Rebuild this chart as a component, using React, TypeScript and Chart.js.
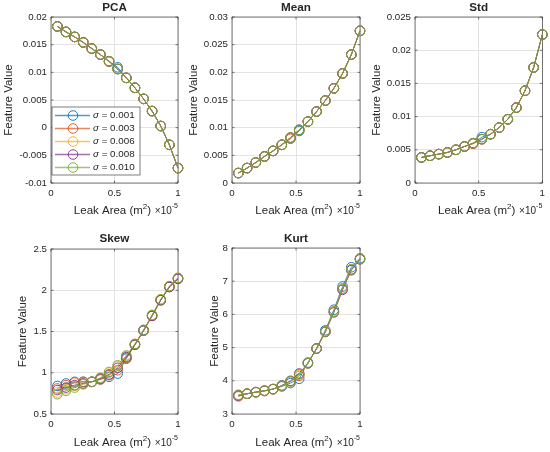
import React, { useEffect, useRef } from 'react';
import { Chart, registerables } from 'chart.js';

Chart.register(...registerables);

Chart.defaults.font.family = "'Liberation Sans', Arial, Helvetica, sans-serif";

// x values (Leak Area, x 10^-5 m^2)
const leakArea = [0.05, 0.118, 0.186, 0.254, 0.321, 0.389, 0.457, 0.525, 0.593, 0.661, 0.729, 0.796, 0.864, 0.932, 1.0];
const sigmaLabels = ['0.001', '0.003', '0.006', '0.008', '0.010'];
const colors = ['#0072BD', '#D95319', '#EDB120', '#7E2F8E', '#77AC30'];
const xTicks = [0, 0.5, 1];

// PCA
const pca001 = [0.0183, 0.0173, 0.0164, 0.0154, 0.0143, 0.0132, 0.0120, 0.0109, 0.0090, 0.0072, 0.0052, 0.0030, 0.0003, -0.0031, -0.0073];
const pca003 = [0.0183, 0.0173, 0.0164, 0.0154, 0.0143, 0.0132, 0.0119, 0.0106, 0.0090, 0.0072, 0.0052, 0.0030, 0.0003, -0.0031, -0.0073];
const pca006 = [0.0183, 0.0173, 0.0164, 0.0154, 0.0143, 0.0132, 0.0120, 0.0106, 0.0090, 0.0072, 0.0052, 0.0030, 0.0003, -0.0031, -0.0073];
const pca008 = [0.0183, 0.0173, 0.0164, 0.0154, 0.0143, 0.0132, 0.0120, 0.0106, 0.0090, 0.0072, 0.0052, 0.0030, 0.0003, -0.0031, -0.0073];
const pca010 = [0.0183, 0.0173, 0.0164, 0.0154, 0.0143, 0.0132, 0.0120, 0.0106, 0.0090, 0.0072, 0.0052, 0.0030, 0.0003, -0.0031, -0.0073];
const pcaTicks = [-0.01, -0.005, 0, 0.005, 0.01, 0.015, 0.02];

// Mean
const mean001 = [0.0018, 0.0027, 0.0037, 0.0048, 0.0058, 0.0069, 0.0081, 0.0094, 0.0111, 0.0129, 0.0149, 0.0171, 0.0198, 0.0232, 0.0275];
const mean003 = [0.0018, 0.0027, 0.0037, 0.0048, 0.0058, 0.0069, 0.0080, 0.0096, 0.0111, 0.0129, 0.0149, 0.0171, 0.0198, 0.0232, 0.0275];
const mean006 = [0.0018, 0.0027, 0.0037, 0.0048, 0.0058, 0.0069, 0.0082, 0.0096, 0.0111, 0.0129, 0.0149, 0.0171, 0.0198, 0.0232, 0.0275];
const mean008 = [0.0018, 0.0027, 0.0037, 0.0048, 0.0058, 0.0069, 0.0082, 0.0096, 0.0111, 0.0129, 0.0149, 0.0171, 0.0198, 0.0232, 0.0275];
const mean010 = [0.0018, 0.0027, 0.0037, 0.0048, 0.0058, 0.0069, 0.0082, 0.0096, 0.0111, 0.0129, 0.0149, 0.0171, 0.0198, 0.0232, 0.0275];
const meanTicks = [0, 0.005, 0.01, 0.015, 0.02, 0.025, 0.03];

// Std
const std001 = [0.00385, 0.0041, 0.00435, 0.0046, 0.0050, 0.0055, 0.0060, 0.0069, 0.00735, 0.00835, 0.0096, 0.01135, 0.0139, 0.0174, 0.02235];
const std003 = [0.00385, 0.0041, 0.00435, 0.0046, 0.0050, 0.0055, 0.0059, 0.0066, 0.00735, 0.00835, 0.0096, 0.01135, 0.0139, 0.0174, 0.02235];
const std006 = [0.00385, 0.0041, 0.00435, 0.0046, 0.0050, 0.0055, 0.0060, 0.0066, 0.00735, 0.00835, 0.0096, 0.01135, 0.0139, 0.0174, 0.02235];
const std008 = [0.00385, 0.0041, 0.00435, 0.0046, 0.0050, 0.0055, 0.0060, 0.0066, 0.00735, 0.00835, 0.0096, 0.01135, 0.0139, 0.0174, 0.02235];
const std010 = [0.00385, 0.0041, 0.00435, 0.0046, 0.0050, 0.0055, 0.0060, 0.0066, 0.00735, 0.00835, 0.0096, 0.01135, 0.0139, 0.0174, 0.02235];
const stdTicks = [0, 0.005, 0.01, 0.015, 0.02, 0.025];

// Skew
const skew001 = [0.84, 0.87, 0.89, 0.89, 0.89, 0.92, 0.95, 0.99, 1.17, 1.34, 1.52, 1.69, 1.88, 2.04, 2.14];
const skew003 = [0.81, 0.85, 0.88, 0.89, 0.89, 0.92, 0.97, 1.03, 1.18, 1.34, 1.51, 1.69, 1.88, 2.04, 2.14];
const skew006 = [0.76, 0.80, 0.84, 0.87, 0.89, 0.93, 1.00, 1.08, 1.20, 1.35, 1.51, 1.70, 1.89, 2.05, 2.15];
const skew008 = [0.79, 0.82, 0.85, 0.87, 0.89, 0.93, 0.98, 1.06, 1.19, 1.34, 1.51, 1.69, 1.88, 2.04, 2.14];
const skew010 = [0.74, 0.78, 0.82, 0.86, 0.89, 0.94, 1.01, 1.09, 1.21, 1.35, 1.51, 1.70, 1.89, 2.05, 2.15];
const skewTicks = [0.5, 1, 1.5, 2, 2.5];

// Kurt
const kurt001 = [3.55, 3.61, 3.66, 3.70, 3.75, 3.83, 3.93, 4.06, 4.55, 4.97, 5.52, 6.14, 6.84, 7.42, 7.69];
const kurt003 = [3.53, 3.61, 3.65, 3.69, 3.75, 3.85, 3.98, 4.15, 4.53, 4.97, 5.48, 6.09, 6.77, 7.35, 7.67];
const kurt006 = [3.56, 3.61, 3.66, 3.70, 3.75, 3.85, 3.98, 4.18, 4.53, 4.97, 5.48, 6.08, 6.77, 7.35, 7.66];
const kurt008 = [3.56, 3.61, 3.66, 3.70, 3.75, 3.86, 4.00, 4.22, 4.53, 4.97, 5.47, 6.06, 6.74, 7.33, 7.66];
const kurt010 = [3.58, 3.61, 3.66, 3.70, 3.75, 3.85, 3.98, 4.20, 4.53, 4.97, 5.48, 6.08, 6.78, 7.36, 7.67];
const kurtTicks = [3, 4, 5, 6, 7, 8];

const TEXT = '#262626';
const GRID = '#e3e3e3';
const AXIS_W = 40;
const AXIS_H = 20;
const W = 550;
const H = 452;
const FONT = "'Liberation Sans', Arial, sans-serif";

type Area = { left: number; top: number; right: number; bottom: number };
type PanelDef = {
  title: string;
  series: number[][];
  yTicks: number[];
  area: Area;
  titleY: number;
  yLabelX: number;
  xLabelY: number;
  legend?: boolean;
};

const panels: PanelDef[] = [
  { title: 'PCA', series: [pca001, pca003, pca006, pca008, pca010], yTicks: pcaTicks,
    area: { left: 51, top: 17, right: 178, bottom: 183 }, titleY: 7.5, yLabelX: 8.5, xLabelY: 211, legend: true },
  { title: 'Mean', series: [mean001, mean003, mean006, mean008, mean010], yTicks: meanTicks,
    area: { left: 232, top: 17, right: 360, bottom: 183 }, titleY: 7.5, yLabelX: 193.5, xLabelY: 211 },
  { title: 'Std', series: [std001, std003, std006, std008, std010], yTicks: stdTicks,
    area: { left: 415, top: 17, right: 543, bottom: 183 }, titleY: 7.5, yLabelX: 377, xLabelY: 211 },
  { title: 'Skew', series: [skew001, skew003, skew006, skew008, skew010], yTicks: skewTicks,
    area: { left: 51, top: 249, right: 178, bottom: 414 }, titleY: 238.5, yLabelX: 23, xLabelY: 443 },
  { title: 'Kurt', series: [kurt001, kurt003, kurt006, kurt008, kurt010], yTicks: kurtTicks,
    area: { left: 232, top: 248, right: 360, bottom: 414 }, titleY: 238.5, yLabelX: 215, xLabelY: 443 },
];

const decorPlugin = {
  id: 'decor',
  beforeDatasetsDraw(chart: any) {
    const { ctx, chartArea: a } = chart;
    ctx.save();
    ctx.strokeStyle = TEXT;
    ctx.lineWidth = 0.6;
    ctx.strokeRect(a.left, a.top, a.right - a.left, a.bottom - a.top);
    // inward tick marks
    const tl = 2.5;
    ctx.beginPath();
    chart.scales.x.ticks.forEach((t: any) => {
      const px = chart.scales.x.getPixelForValue(t.value);
      ctx.moveTo(px, a.bottom); ctx.lineTo(px, a.bottom - tl);
      ctx.moveTo(px, a.top); ctx.lineTo(px, a.top + tl);
    });
    chart.scales.y.ticks.forEach((t: any) => {
      const py = chart.scales.y.getPixelForValue(t.value);
      ctx.moveTo(a.left, py); ctx.lineTo(a.left + tl, py);
      ctx.moveTo(a.right, py); ctx.lineTo(a.right - tl, py);
    });
    ctx.stroke();
    ctx.restore();
  },
  afterDatasetsDraw(chart: any, _args: any, opts: any) {
    if (!opts.legend) return;
    const { ctx } = chart;
    const bx = 52, by = 107, bw = 88, bh = 68;
    ctx.save();
    ctx.fillStyle = '#ffffff';
    ctx.fillRect(bx, by, bw, bh);
    ctx.strokeStyle = TEXT;
    ctx.lineWidth = 0.6;
    ctx.strokeRect(bx, by, bw, bh);
    sigmaLabels.forEach((lab, i) => {
      const y = 115.5 + i * 13;
      ctx.strokeStyle = colors[i];
      ctx.globalAlpha = 0.7;
      ctx.lineWidth = 1.5;
      ctx.beginPath();
      ctx.moveTo(55, y); ctx.lineTo(90, y);
      ctx.stroke();
      ctx.globalAlpha = 1;
      ctx.lineWidth = 0.9;
      ctx.beginPath();
      ctx.arc(73, y, 4.8, 0, Math.PI * 2);
      ctx.stroke();
      ctx.fillStyle = TEXT;
      ctx.textBaseline = 'middle';
      ctx.textAlign = 'left';
      ctx.font = `italic 9.8px ${FONT}`;
      ctx.fillText('\u03C3', 93, y);
      const sw = ctx.measureText('\u03C3').width;
      ctx.font = `9.8px ${FONT}`;
      ctx.fillText(' = ' + lab, 93 + sw, y);
    });
    ctx.restore();
  },
  afterDraw(chart: any, _args: any, opts: any) {
    const { ctx, chartArea: a } = chart;
    const cx = (a.left + a.right) / 2;
    ctx.save();
    ctx.fillStyle = TEXT;
    ctx.textBaseline = 'middle';
    // title
    ctx.textAlign = 'center';
    ctx.font = `bold 11.7px ${FONT}`;
    ctx.fillText(opts.title, cx, opts.titleY);
    // y label
    ctx.save();
    ctx.translate(opts.yLabelX, (a.top + a.bottom) / 2);
    ctx.rotate(-Math.PI / 2);
    ctx.font = `11.5px ${FONT}`;
    ctx.fillText('Feature Value', 0, 0);
    ctx.restore();
    // x label with superscript
    const big = `11.5px ${FONT}`;
    const small = `8px ${FONT}`;
    ctx.textAlign = 'left';
    ctx.font = big;
    const w1 = ctx.measureText('Leak Area (m').width;
    const w3 = ctx.measureText(')').width;
    ctx.font = small;
    const w2 = ctx.measureText('2').width;
    const total = w1 + w2 + w3;
    let x = cx - 2 - total / 2;
    const y = opts.xLabelY;
    ctx.font = big;
    ctx.fillText('Leak Area (m', x, y);
    x += w1;
    ctx.font = small;
    ctx.fillText('2', x, y - 4);
    x += w2;
    ctx.font = big;
    ctx.fillText(')', x, y);
    // exponent label
    const eBig = `10px ${FONT}`;
    const eSmall = `7px ${FONT}`;
    ctx.font = eSmall;
    const ew2 = ctx.measureText('-5').width;
    ctx.font = eBig;
    const ew1 = ctx.measureText('\u00D710').width;
    const ex = a.right - ew1 - ew2;
    ctx.fillText('\u00D710', ex, y);
    ctx.font = eSmall;
    ctx.fillText('-5', ex + ew1, y - 4.5);
    ctx.restore();
  },
};

function Panel({ panel }: { panel: PanelDef }) {
  const canvasRef = useRef<HTMLCanvasElement>(null);

  useEffect(() => {
    if (!canvasRef.current) return;
    const a = panel.area;
    const chart = new Chart(canvasRef.current, {
      type: 'line',
      data: {
        datasets: panel.series.map((vals, i) => ({
          label: sigmaLabels[i],
          data: vals.map((y, j) => ({ x: leakArea[j], y })),
          borderColor: colors[i],
          backgroundColor: colors[i],
          borderWidth: 0.8,
          pointRadius: 4.8,
          pointBorderWidth: 0.9,
          pointBackgroundColor: 'rgba(0,0,0,0)',
          pointBorderColor: colors[i],
          tension: 0,
          clip: false as any,
          order: panel.series.length - 1 - i,
        })),
      },
      options: {
        responsive: false,
        animation: false,
        events: [],
        layout: {
          padding: { left: a.left - AXIS_W, top: a.top, right: W - a.right, bottom: H - a.bottom - AXIS_H },
        },
        plugins: {
          legend: { display: false },
          tooltip: { enabled: false },
          decor: { title: panel.title, titleY: panel.titleY, yLabelX: panel.yLabelX, xLabelY: panel.xLabelY, legend: !!panel.legend },
        } as any,
        scales: {
          x: {
            type: 'linear',
            min: 0,
            max: 1,
            afterBuildTicks: (s: any) => { s.ticks = xTicks.map((v) => ({ value: v })); },
            afterFit: (s: any) => { s.height = AXIS_H; },
            grid: { color: GRID, drawTicks: false },
            border: { display: false },
            ticks: { padding: 5, color: TEXT, font: { size: 9.7 }, maxRotation: 0, callback: (v: any) => String(v) },
          },
          y: {
            type: 'linear',
            min: panel.yTicks[0],
            max: panel.yTicks[panel.yTicks.length - 1],
            afterBuildTicks: (s: any) => { s.ticks = panel.yTicks.map((v) => ({ value: v })); },
            afterFit: (s: any) => { s.width = AXIS_W; },
            grid: { color: GRID, drawTicks: false },
            border: { display: false },
            ticks: { padding: 4, color: TEXT, font: { size: 9.7 }, callback: (v: any) => String(v) },
          },
        },
      },
      plugins: [decorPlugin],
    });
    return () => chart.destroy();
  }, [panel]);

  return (
    <canvas
      ref={canvasRef}
      width={W}
      height={H}
      style={{ position: 'absolute', left: 0, top: 0, width: W, height: H }}
    />
  );
}

export default function App() {
  return (
    <div style={{ position: 'absolute', left: 0, top: 0, width: W, height: H, background: '#ffffff' }}>
      {panels.map((p) => (
        <Panel key={p.title} panel={p} />
      ))}
    </div>
  );
}
